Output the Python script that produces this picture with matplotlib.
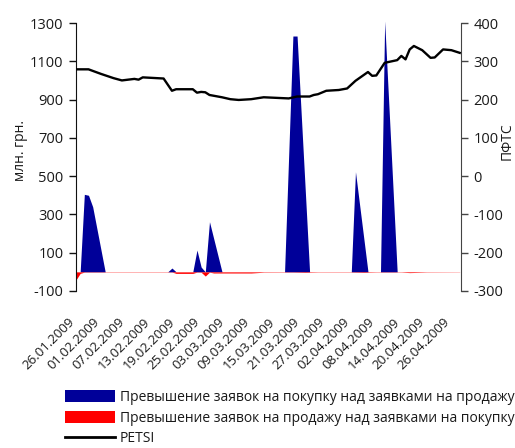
import matplotlib
matplotlib.use('Agg')
import matplotlib.pyplot as plt
import matplotlib.transforms as mtrans
from matplotlib.patches import Patch
from matplotlib.lines import Line2D
import pandas as pd

plt.rcParams['font.family'] = ['Open Sans', 'DejaVu Sans']
plt.rcParams['axes.unicode_minus'] = False

# PFTS index (right axis)
pfts_dates = ['2009-01-26', '2009-01-29', '2009-02-01', '2009-02-04', '2009-02-06',
              '2009-02-09', '2009-02-10', '2009-02-11', '2009-02-16', '2009-02-18',
              '2009-02-19', '2009-02-23', '2009-02-24', '2009-02-25', '2009-02-26',
              '2009-02-27', '2009-03-02', '2009-03-04', '2009-03-06', '2009-03-09',
              '2009-03-12', '2009-03-18', '2009-03-20', '2009-03-23', '2009-03-24',
              '2009-03-25', '2009-03-27', '2009-03-30', '2009-04-01', '2009-04-03',
              '2009-04-06', '2009-04-07', '2009-04-08', '2009-04-10', '2009-04-13',
              '2009-04-14', '2009-04-15', '2009-04-16', '2009-04-17', '2009-04-19',
              '2009-04-21', '2009-04-22', '2009-04-24', '2009-04-26', '2009-04-28']
pfts_values = [279, 279, 267, 256, 250,
               254, 252, 258, 255, 223,
               227, 227, 218, 220, 219,
               212, 206, 201, 199, 201,
               206, 203, 208, 208, 212,
               214, 223, 225, 229, 249,
               272, 262, 263, 296, 303,
               314, 305, 331, 340, 329,
               309, 310, 331, 329, 322]

# Excess of buy orders over sell orders (left axis, mln UAH)
buy_dates = ['2009-01-27', '2009-01-28', '2009-01-29', '2009-01-30', '2009-02-02',
             '2009-02-17', '2009-02-18', '2009-02-19',
             '2009-02-23', '2009-02-24', '2009-02-25', '2009-02-26',
             '2009-02-27', '2009-03-02',
             '2009-03-17', '2009-03-19', '2009-03-20', '2009-03-23',
             '2009-04-02', '2009-04-03', '2009-04-06',
             '2009-04-09', '2009-04-10', '2009-04-13']
buy_values = [0, 405, 400, 340, 0,
              0, 20, 0,
              0, 114, 25, 0,
              262, 0,
              0, 1232, 1232, 0,
              0, 523, 0,
              0, 1310, 0]

# Excess of sell orders over buy orders (left axis, mln UAH)
sell_dates = ['2009-01-26', '2009-01-27', '2009-01-28', '2009-02-17', '2009-02-18',
              '2009-02-19', '2009-02-23', '2009-02-24', '2009-02-25', '2009-02-26',
              '2009-02-27', '2009-02-28', '2009-03-09', '2009-03-12', '2009-03-19',
              '2009-03-22', '2009-03-25', '2009-04-02', '2009-04-05', '2009-04-08',
              '2009-04-14', '2009-04-16', '2009-04-20', '2009-04-28']
sell_values = [-42, -8, -1.5, -1.5, -1,
               -8, -8, -1.5, -2, -22,
               -1.5, -6, -6, -2, -1.5,
               -3, -1.5, -1.5, -3, -1.5,
               -1.5, -4, -1.5, -1]

tick_labels = ['26.01.2009', '01.02.2009', '07.02.2009', '13.02.2009', '19.02.2009',
               '25.02.2009', '03.03.2009', '09.03.2009', '15.03.2009', '21.03.2009',
               '27.03.2009', '02.04.2009', '08.04.2009', '14.04.2009', '20.04.2009',
               '26.04.2009']
left_ticks = [-100, 100, 300, 500, 700, 900, 1100, 1300]
right_ticks = [-300, -200, -100, 0, 100, 200, 300, 400]

legend_labels = ['Превышение заявок на покупку над заявками на продажу',
                 'Превышение заявок на продажу над заявками на покупку',
                 'PETSI']

BLUE = '#000099'
RED = '#FF0000'
TXT = '#1a1a1a'

W, H = 515, 448
fig = plt.figure(figsize=(W / 100, H / 100), dpi=100)
x0, x1, y0, y1 = 76, 461, 23, 291
ax = fig.add_axes([x0 / W, 1 - y1 / H, (x1 - x0) / W, (y1 - y0) / H])
ax2 = ax.twinx()

bd = pd.to_datetime(buy_dates)
sd = pd.to_datetime(sell_dates)
pd_ = pd.to_datetime(pfts_dates)
tick_dates = pd.to_datetime(tick_labels, format='%d.%m.%Y')

ax.fill_between(bd, 0, buy_values, color=BLUE, linewidth=0, clip_on=False, zorder=2)
ax.fill_between(sd, 0, sell_values, color=RED, linewidth=0, zorder=2)
ax2.plot(pd_, pfts_values, color='black', linewidth=1.7, solid_joinstyle='round', zorder=3)

start = pd.Timestamp('2009-01-26')
ax.set_xlim(start, start + pd.Timedelta(days=92.3))
ax.set_ylim(-100, 1300)
ax2.set_ylim(-300, 400)
ax.set_yticks(left_ticks)
ax2.set_yticks(right_ticks)

for a in (ax, ax2):
    a.spines['top'].set_visible(False)
    a.spines['bottom'].set_visible(False)
ax.spines['right'].set_visible(False)
ax2.spines['left'].set_visible(False)
ax.spines['left'].set_color('#111111')
ax2.spines['right'].set_color('#444444')
ax.tick_params(axis='y', length=5, width=1, color='#111111', labelsize=10.5,
               labelcolor=TXT, pad=4)
ax2.tick_params(axis='y', length=5, width=1, color='#444444', labelsize=10.5,
                labelcolor=TXT, pad=4)
ax.tick_params(axis='x', length=0, pad=0)
ax.set_zorder(ax2.get_zorder() - 1)
ax2.patch.set_visible(False)

ax.set_xticks(tick_dates)
ax.set_xticklabels(tick_labels, rotation=45, ha='right', va='top',
                   rotation_mode='anchor', fontsize=9.5, color=TXT)
fig.canvas.draw()
offset = mtrans.ScaledTranslation(-8 / 100, -24 / 100, fig.dpi_scale_trans)
for t in ax.xaxis.get_major_ticks():
    t.label1.set_transform(t.label1.get_transform() + offset)

fig.text(21 / W, 1 - 150 / H, 'млн. грн.', rotation=90, ha='center', va='center',
         fontsize=10, color=TXT)
fig.text(507 / W, 1 - 141 / H, 'ПФТС', rotation=90, ha='center', va='center',
         fontsize=10, color=TXT)

handles = [Patch(facecolor=BLUE, edgecolor='none'),
           Patch(facecolor=RED, edgecolor='none'),
           Line2D([0], [0], color='black', linewidth=2)]
fig.legend(handles, legend_labels, loc='upper left',
           bbox_to_anchor=(65 / W, 1 - 390 / H), frameon=False, fontsize=10,
           handlelength=3.6, handleheight=0.95, handletextpad=0.35,
           labelspacing=0.4, borderaxespad=0, borderpad=0, labelcolor=TXT)

fig.savefig('out.png', dpi=100)
